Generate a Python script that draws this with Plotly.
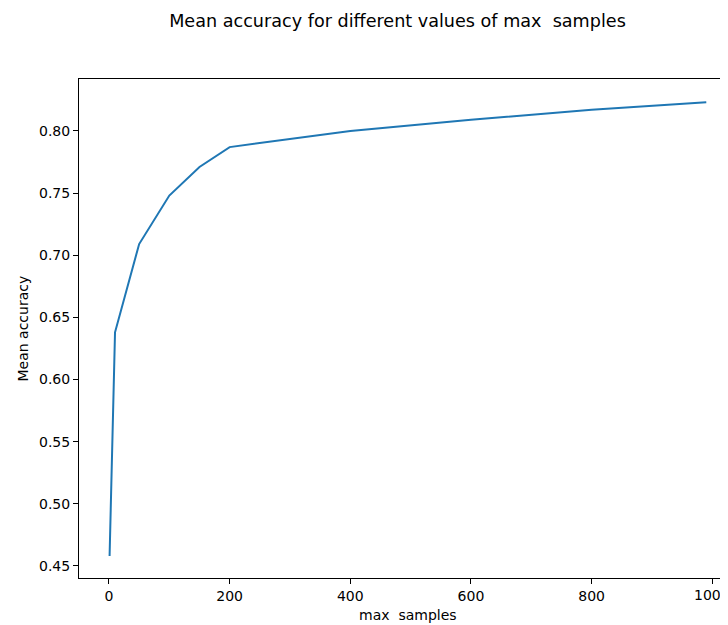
import plotly.graph_objects as go

max_samples = [1, 10, 50, 100, 150, 200, 400, 600, 800, 990]
mean_accuracy = [0.458, 0.638, 0.709, 0.748, 0.771, 0.787, 0.800, 0.809, 0.817, 0.823]

x_ticks = [0, 200, 400, 600, 800, 1000]
y_ticks = [0.45, 0.50, 0.55, 0.60, 0.65, 0.70, 0.75, 0.80]

FONT = "DejaVu Sans"

# page body has an 8px margin, so the figure starts at (8, 8)
OFF = 8
W, H = 728 - OFF, 625 - OFF
L, T = 79 - OFF, 79 - OFF
B = H - (578 - OFF)
PW, PH = W - L, H - T - B

fig = go.Figure()
fig.add_trace(go.Scatter(
    x=max_samples, y=mean_accuracy, mode="lines",
    line=dict(color="#1f77b4", width=2), showlegend=False,
))

# the last tick label overflows the right edge; plotly would hide it,
# so it is drawn as an annotation at its data position instead
shown_ticktext = [str(v) if v < 1000 else "" for v in x_ticks]

fig.update_layout(
    width=W, height=H,
    margin=dict(l=L, r=0, t=T, b=B, pad=0),
    paper_bgcolor="white", plot_bgcolor="white",
    font=dict(family=FONT, color="black", size=14),
    title=dict(
        text="Mean accuracy for different values of max\u00a0\u00a0samples",
        font=dict(family=FONT, size=17.6, color="black"),
        xref="container", yref="container",
        x=(397.5 - OFF) / W, xanchor="center",
        y=1 - (21 - OFF) / H, yanchor="middle",
    ),
    xaxis=dict(
        range=[-49.7, 1026], tickvals=x_ticks, ticktext=shown_ticktext,
        showgrid=False, zeroline=False, showline=True, linecolor="black", linewidth=1,
        mirror=True, ticks="outside", ticklen=5, tickwidth=1, tickcolor="black",
        tickfont=dict(family=FONT, size=14, color="black"),
    ),
    yaxis=dict(
        range=[0.4403, 0.8418], tickvals=y_ticks, ticktext=[f"{v:.2f}" for v in y_ticks],
        showgrid=False, zeroline=False, showline=True, linecolor="black", linewidth=1,
        mirror=False, ticks="outside", ticklen=5, tickwidth=1, tickcolor="black",
        tickfont=dict(family=FONT, size=14, color="black"),
    ),
    annotations=[
        dict(text=str(x_ticks[-1]), xref="x", yref="paper",
             x=x_ticks[-1], y=-(595 - 578) / PH,
             xanchor="center", yanchor="middle", showarrow=False,
             font=dict(family=FONT, size=14, color="black")),
        dict(text="max\u00a0\u00a0samples", xref="paper", yref="paper",
             x=(407.5 - 79) / PW, y=-(615 - 578) / PH,
             xanchor="center", yanchor="middle", showarrow=False,
             font=dict(family=FONT, size=14, color="black")),
        dict(text="Mean accuracy", xref="paper", yref="paper",
             x=-(79 - 22) / PW, y=0.5, textangle=-90,
             xanchor="center", yanchor="middle", showarrow=False,
             font=dict(family=FONT, size=14, color="black")),
    ],
)

fig.write_html("out.html")
